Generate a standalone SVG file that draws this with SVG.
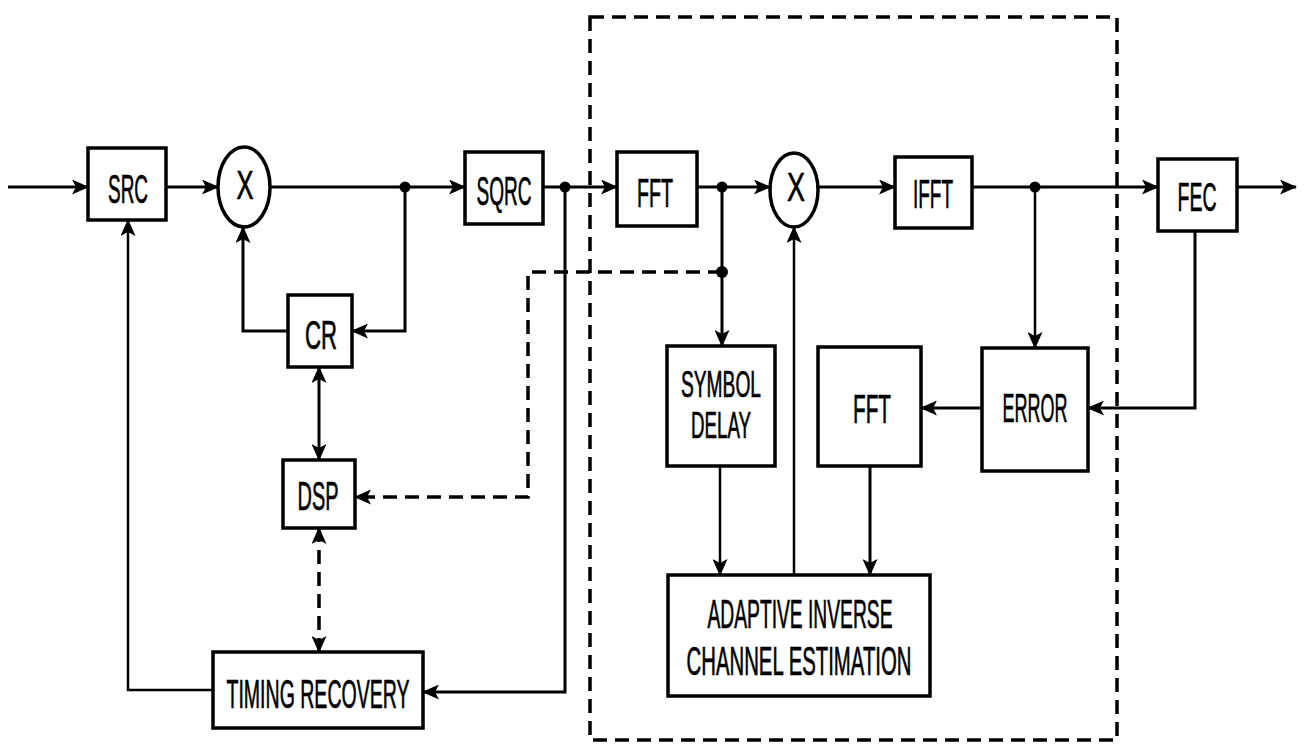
<svg xmlns="http://www.w3.org/2000/svg" width="1306" height="747" viewBox="0 0 1306 747">
<style>
.box{fill:#fff;stroke:#000;stroke-width:3.5}
.lbl{font-family:"Liberation Sans",Arial,sans-serif;font-size:41px;fill:#000;stroke:#000;stroke-width:0.7;text-anchor:middle}
.sm{font-size:36px}
.ln{fill:none;stroke:#000;stroke-width:3}
.thin{fill:none;stroke:#000;stroke-width:2.5}
.dash{fill:none;stroke:#000;stroke-width:3.5;stroke-dasharray:14 8}
.dot{fill:#000}
</style>
<defs>
<marker id="ah" viewBox="0 0 17 15" markerWidth="17" markerHeight="15" refX="16" refY="7.5" orient="auto" markerUnits="userSpaceOnUse">
<path d="M0,0 L17,7.5 L0,15 L4,7.5 z" fill="#000"/>
</marker>
<marker id="ahs" viewBox="0 0 17 15" markerWidth="17" markerHeight="15" refX="16" refY="7.5" orient="auto-start-reverse" markerUnits="userSpaceOnUse">
<path d="M0,0 L17,7.5 L0,15 L4,7.5 z" fill="#000"/>
</marker>
</defs>
<rect width="1306" height="747" fill="#fff"/>
<g id="boundary">
<rect x="590" y="17" width="527" height="723" class="dash"/>
</g>
<g id="connectors">
<line x1="8" y1="187" x2="88" y2="187" class="ln" marker-end="url(#ah)"/>
<line x1="166" y1="187" x2="218" y2="187" class="ln" marker-end="url(#ah)"/>
<line x1="270" y1="187" x2="465" y2="187" class="ln" marker-end="url(#ah)"/>
<polyline points="405,187 405,331 352,331" class="ln" marker-end="url(#ah)"/>
<polyline points="288,331 243,331 243,227" class="ln" marker-end="url(#ah)"/>
<line x1="319" y1="367" x2="319" y2="460" class="ln" marker-start="url(#ahs)" marker-end="url(#ah)"/>
<line x1="319" y1="528" x2="319" y2="652" class="dash" marker-start="url(#ahs)" marker-end="url(#ah)"/>
<polyline points="722,272 528,272 528,497 355,497" class="dash" marker-end="url(#ah)"/>
<line x1="543" y1="187" x2="617" y2="187" class="ln" marker-end="url(#ah)"/>
<polyline points="565,187 565,692 423,692" class="ln" marker-end="url(#ah)"/>
<polyline points="213,690 128,690 128,220" class="thin" marker-end="url(#ah)"/>
<line x1="697" y1="187" x2="770" y2="187" class="ln" marker-end="url(#ah)"/>
<line x1="722" y1="187" x2="722" y2="346" class="ln" marker-end="url(#ah)"/>
<line x1="818" y1="187" x2="895" y2="187" class="ln" marker-end="url(#ah)"/>
<line x1="794" y1="575" x2="794" y2="227" class="thin" marker-end="url(#ah)"/>
<line x1="972" y1="187" x2="1158" y2="187" class="ln" marker-end="url(#ah)"/>
<line x1="1035" y1="187" x2="1035" y2="348" class="thin" marker-end="url(#ah)"/>
<polyline points="1195,231 1195,408 1088,408" class="ln" marker-end="url(#ah)"/>
<line x1="982" y1="408" x2="921" y2="408" class="ln" marker-end="url(#ah)"/>
<line x1="1237" y1="187" x2="1296" y2="187" class="ln" stroke-width="4" marker-end="url(#ah)"/>
<line x1="720" y1="466" x2="720" y2="575" class="thin" marker-end="url(#ah)"/>
<line x1="870" y1="466" x2="870" y2="575" class="ln" marker-end="url(#ah)"/>
<circle cx="405" cy="187" r="5.5" class="dot"/>
<circle cx="565" cy="187" r="5.5" class="dot"/>
<circle cx="722" cy="187" r="5.5" class="dot"/>
<circle cx="722" cy="272" r="6" class="dot"/>
<circle cx="1035" cy="187" r="5.5" class="dot"/>
</g>
<g id="src"><rect x="88" y="148" width="78" height="72" class="box"/><text x="128" y="203" class="lbl" textLength="40" lengthAdjust="spacingAndGlyphs">SRC</text></g>
<g id="mix1"><ellipse cx="244" cy="187" rx="26" ry="40" class="box"/><text x="245" y="199" class="lbl" textLength="17" lengthAdjust="spacingAndGlyphs">X</text></g>
<g id="cr"><rect x="288" y="295" width="64" height="72" class="box"/><text x="321" y="349" class="lbl" textLength="32" lengthAdjust="spacingAndGlyphs">CR</text></g>
<g id="dsp"><rect x="283" y="460" width="72" height="68" class="box"/><text x="318" y="510" class="lbl" textLength="41" lengthAdjust="spacingAndGlyphs">DSP</text></g>
<g id="timing"><rect x="213" y="652" width="210" height="76" class="box"/><text x="318" y="708" class="lbl" textLength="183" lengthAdjust="spacingAndGlyphs">TIMING RECOVERY</text></g>
<g id="sqrc"><rect x="465" y="152" width="78" height="72" class="box"/><text x="504" y="205" class="lbl" textLength="55" lengthAdjust="spacingAndGlyphs">SQRC</text></g>
<g id="fft1"><rect x="617" y="152" width="80" height="74" class="box"/><text x="655" y="207" class="lbl" textLength="36" lengthAdjust="spacingAndGlyphs">FFT</text></g>
<g id="mix2"><ellipse cx="794" cy="190" rx="24" ry="37" class="box"/><text x="796" y="201" class="lbl" textLength="18" lengthAdjust="spacingAndGlyphs">X</text></g>
<g id="ifft"><rect x="895" y="157" width="77" height="71" class="box"/><text x="933" y="208" class="lbl" textLength="40" lengthAdjust="spacingAndGlyphs">IFFT</text></g>
<g id="fec"><rect x="1158" y="159" width="79" height="72" class="box"/><text x="1197" y="211" class="lbl" textLength="39" lengthAdjust="spacingAndGlyphs">FEC</text></g>
<g id="symdelay"><rect x="667" y="346" width="108" height="120" class="box"/><text x="721" y="397" class="lbl sm" textLength="80" lengthAdjust="spacingAndGlyphs">SYMBOL</text><text x="721" y="438" class="lbl sm" textLength="60" lengthAdjust="spacingAndGlyphs">DELAY</text></g>
<g id="fft2"><rect x="818" y="347" width="103" height="119" class="box"/><text x="872" y="423" class="lbl" textLength="38" lengthAdjust="spacingAndGlyphs">FFT</text></g>
<g id="error"><rect x="982" y="348" width="106" height="123" class="box"/><text x="1035" y="422" class="lbl" textLength="65" lengthAdjust="spacingAndGlyphs">ERROR</text></g>
<g id="adaptive"><rect x="668" y="575" width="262" height="121" class="box"/><text x="800" y="628" class="lbl" textLength="185" lengthAdjust="spacingAndGlyphs">ADAPTIVE INVERSE</text><text x="799" y="675" class="lbl" textLength="225" lengthAdjust="spacingAndGlyphs">CHANNEL ESTIMATION</text></g>
</svg>
